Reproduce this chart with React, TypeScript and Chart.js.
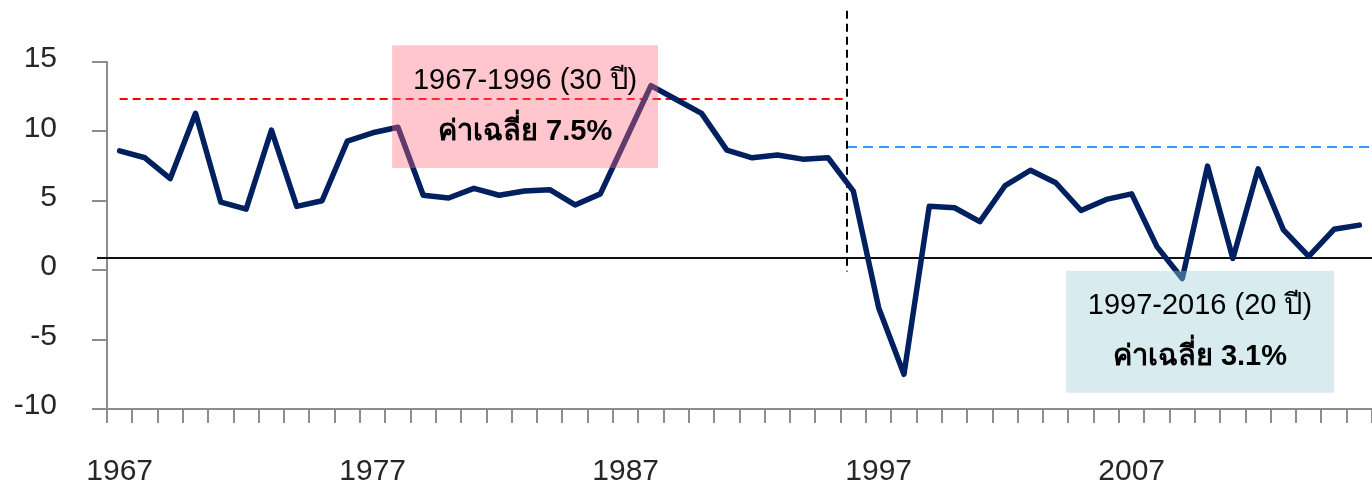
import React, { useEffect, useRef } from "react";
import { Chart, registerables } from "chart.js";

Chart.register(...registerables);

const years = [
  "1967", "1968", "1969", "1970", "1971", "1972", "1973", "1974", "1975", "1976",
  "1977", "1978", "1979", "1980", "1981", "1982", "1983", "1984", "1985", "1986",
  "1987", "1988", "1989", "1990", "1991", "1992", "1993", "1994", "1995", "1996",
  "1997", "1998", "1999", "2000", "2001", "2002", "2003", "2004", "2005", "2006",
  "2007", "2008", "2009", "2010", "2011", "2012", "2013", "2014", "2015", "2016",
];

const growth = [
  8.6, 8.1, 6.6, 11.3, 4.9, 4.4, 10.1, 4.6, 5.0, 9.3,
  9.9, 10.3, 5.4, 5.2, 5.9, 5.4, 5.7, 5.8, 4.7, 5.5,
  9.4, 13.3, 12.3, 11.3, 8.65, 8.1, 8.3, 8.0, 8.1, 5.7,
  -2.7, -7.5, 4.6, 4.5, 3.5, 6.1, 7.2, 6.3, 4.3, 5.1,
  5.5, 1.7, -0.6, 7.5, 0.85, 7.3, 2.9, 1.0, 2.95, 3.25,
];

const shownYearLabels = ["1967", "1977", "1987", "1997", "2007"];
const yTicks = [-10, -5, 0, 5, 10, 15];

const period1Label = "1967-1996 (30 ปี)";
const period1Avg = "ค่าเฉลี่ย 7.5%";
const period2Label = "1997-2016 (20 ปี)";
const period2Avg = "ค่าเฉลี่ย 3.1%";

// reference levels drawn in the chart (data units)
const baseLineValue = 0.9;
const avgLine1 = { value: 12.3, from: 0, to: 28.6 };
const avgLine2 = { value: 8.9, from: 28.75, to: 49.5 };
const splitLine = { index: 28.75, top: 18.7, bottom: -0.1 };
const box1 = { x0: 10.77, x1: 21.28, y0: 16.2, y1: 7.36 };
const box2 = { x0: 37.4, x1: 48.0, y0: -0.05, y1: -8.83 };

const FONT = "'Liberation Sans', Arial, 'Noto Sans', sans-serif";

const overlayPlugin = {
  id: "overlay",
  beforeDatasetsDraw(chart: any) {
    const { ctx, scales, chartArea } = chart;
    const x = scales.x;
    const y = scales.y;
    ctx.save();
    // solid baseline
    ctx.strokeStyle = "#111";
    ctx.lineWidth = 2;
    ctx.setLineDash([]);
    ctx.beginPath();
    const by = Math.round(y.getPixelForValue(baseLineValue));
    ctx.moveTo(chartArea.left - 10, by);
    ctx.lineTo(chart.width, by);
    ctx.stroke();
    // red dashed avg
    ctx.strokeStyle = "#FF0000";
    ctx.lineWidth = 2;
    ctx.setLineDash([8, 5]);
    ctx.beginPath();
    const ry = Math.round(y.getPixelForValue(avgLine1.value));
    ctx.moveTo(x.getPixelForValue(avgLine1.from), ry);
    ctx.lineTo(x.getPixelForValue(avgLine1.to), ry);
    ctx.stroke();
    // blue dashed avg
    ctx.strokeStyle = "#3399FF";
    ctx.lineWidth = 2;
    ctx.setLineDash([10, 6]);
    ctx.beginPath();
    const bly = Math.round(y.getPixelForValue(avgLine2.value));
    ctx.moveTo(x.getPixelForValue(avgLine2.from), bly);
    ctx.lineTo(chart.width, bly);
    ctx.stroke();
    // vertical split
    ctx.strokeStyle = "#000";
    ctx.lineWidth = 2;
    ctx.setLineDash([8, 5]);
    ctx.beginPath();
    const sx = Math.round(x.getPixelForValue(splitLine.index));
    ctx.moveTo(sx, y.getPixelForValue(splitLine.top));
    ctx.lineTo(sx, y.getPixelForValue(splitLine.bottom));
    ctx.stroke();
    ctx.restore();
  },
  afterDatasetsDraw(chart: any) {
    const { ctx, scales } = chart;
    const x = scales.x;
    const y = scales.y;
    const drawBox = (b: any, fill: string, l1: string, l2: string) => {
      const px0 = x.getPixelForValue(b.x0);
      const px1 = x.getPixelForValue(b.x1);
      const py0 = y.getPixelForValue(b.y0);
      const py1 = y.getPixelForValue(b.y1);
      ctx.save();
      ctx.fillStyle = fill;
      ctx.fillRect(px0, py0, px1 - px0, py1 - py0);
      const cx = (px0 + px1) / 2;
      const cy = (py0 + py1) / 2;
      ctx.fillStyle = "#000";
      ctx.textAlign = "center";
      ctx.textBaseline = "middle";
      ctx.font = `29px ${FONT}`;
      ctx.fillText(l1, cx, cy - 25.5);
      ctx.font = `bold 29px ${FONT}`;
      ctx.fillText(l2, cx, cy + 25.5);
      ctx.restore();
    };
    drawBox(box1, "rgba(255,105,125,0.38)", period1Label, period1Avg);
    drawBox(box2, "rgba(157,207,217,0.4)", period2Label, period2Avg);
  },
};

export default function App() {
  const ref = useRef<HTMLCanvasElement | null>(null);
  useEffect(() => {
    document.body.style.margin = "0";
    const canvas = ref.current;
    if (!canvas) return;
    const chart = new Chart(canvas, {
      type: "line",
      data: {
        labels: years,
        datasets: [
          {
            data: growth,
            borderColor: "#002060",
            borderWidth: 5.5,
            pointRadius: 0,
            tension: 0,
            borderJoinStyle: "round",
            borderCapStyle: "round",
            fill: false,
          },
        ],
      },
      options: {
        responsive: false,
        animation: false,
        devicePixelRatio: 1,
        layout: { padding: { top: 62, left: 0, right: 0, bottom: 0 } },
        plugins: { legend: { display: false }, tooltip: { enabled: false } },
        scales: {
          x: {
            type: "category",
            offset: true,
            grid: {
              offset: true,
              drawOnChartArea: false,
              drawTicks: true,
              tickLength: 14,
              color: "#8c8c8c",
              lineWidth: 2,
            },
            border: { color: "#8c8c8c", width: 2 },
            ticks: {
              autoSkip: false,
              maxRotation: 0,
              minRotation: 0,
              padding: 31,
              color: "#262626",
              font: { family: FONT, size: 30 },
              callback: (_v: any, i: number) =>
                shownYearLabels.includes(years[i]) ? years[i] : "",
            },
            afterFit: (s: any) => {
              s.height = 76;
              s.paddingLeft = 0;
              s.paddingRight = 0;
            },
          },
          y: {
            min: -10,
            max: 15,
            afterBuildTicks: (s: any) => {
              s.ticks = yTicks.map((v) => ({ value: v }));
            },
            grid: {
              drawOnChartArea: false,
              drawTicks: true,
              tickLength: 15,
              color: "#8c8c8c",
              lineWidth: 2,
            },
            border: { color: "#8c8c8c", width: 2 },
            ticks: {
              padding: 35,
              color: "#262626",
              labelOffset: -3,
              font: { family: FONT, size: 30 },
            },
            afterFit: (s: any) => {
              s.width = 107;
            },
          },
        },
      },
      plugins: [overlayPlugin],
    } as any);
    return () => chart.destroy();
  }, []);
  return (
    <div style={{ width: 1372, height: 485 }}>
      <canvas ref={ref} width={1372} height={485} />
    </div>
  );
}
